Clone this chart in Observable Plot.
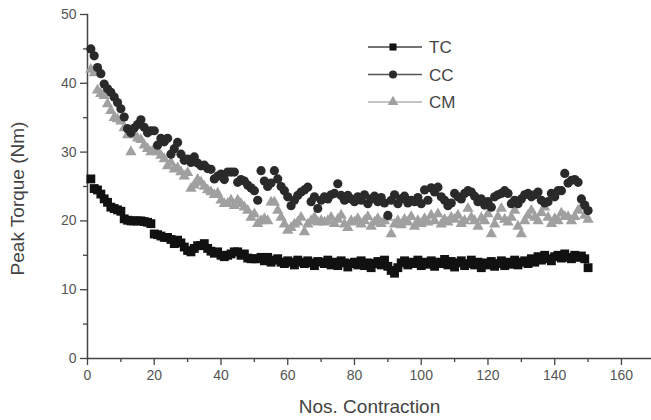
<!DOCTYPE html>
<html><head><meta charset="utf-8">
<script src="https://cdn.jsdelivr.net/npm/d3@7"></script>
<script src="https://cdn.jsdelivr.net/npm/@observablehq/plot@0.6"></script>
<style>
body{margin:0;background:#fff;}
#wrap{position:relative;width:651px;height:420px;font-family:"Liberation Sans",Arial,sans-serif;}
#legend{position:absolute;left:360px;top:34px;}
</style></head><body><div id="wrap"></div>
<script>
const seriesNames = ["TC", "CC", "CM"];
const seriesSymbols = ["square", "circle", "triangle"];
const seriesColors = ["#111111", "#2a2a2a", "#a0a0a0"];
const lineColors = ["#444444", "#555555", "#b0b0b0"];

const tc = [
26.1,24.7,24.5,23.9,23.2,22.7,22.0,21.8,21.6,21.4,
20.3,20.1,20.0,20.0,20.0,20.0,19.9,19.8,19.6,18.1,
18.0,17.8,17.6,17.6,17.3,16.7,17.2,16.8,16.2,15.7,
15.5,16.0,16.4,16.4,16.7,16.0,15.6,15.3,15.5,15.0,
14.8,15.0,15.2,15.5,15.5,15.0,15.2,14.6,14.5,14.5,
14.5,14.7,14.2,14.7,14.0,14.3,14.5,14.0,13.8,14.2,
14.0,13.6,14.3,14.0,13.8,14.2,13.9,13.5,14.1,14.0,
13.8,14.3,13.6,14.0,13.5,14.2,13.9,13.3,13.8,14.0,
13.6,14.2,13.5,13.9,13.2,13.8,14.1,13.6,14.3,13.4,
12.8,12.4,13.2,13.9,14.2,13.6,14.0,13.8,14.3,13.5,
14.0,13.7,14.2,13.4,14.0,13.8,14.4,13.6,14.1,13.3,
13.9,14.2,13.5,13.8,14.3,13.6,14.0,13.2,13.9,13.6,
14.1,13.4,13.8,14.2,13.5,14.0,13.7,14.3,13.6,14.0,
14.2,13.8,14.5,14.0,14.8,14.3,15.0,14.5,14.2,14.8,
15.0,14.6,15.2,14.7,14.5,15.0,14.7,14.9,14.5,13.2];

const cc = [
45.0,44.0,42.3,41.4,39.9,39.2,38.7,38.0,37.2,36.3,
35.1,33.4,32.8,33.5,34.0,34.7,33.6,32.8,33.1,33.1,
31.0,32.0,31.5,32.0,29.7,30.5,31.4,29.7,28.8,29.0,
28.5,29.3,28.4,28.0,28.1,27.6,27.5,26.1,26.5,26.8,
26.0,27.1,27.1,27.1,25.6,26.0,25.8,25.2,24.8,24.4,
23.0,27.3,25.8,25.0,25.5,27.3,26.1,25.0,24.4,23.5,
22.2,23.0,23.7,24.2,24.5,24.9,22.8,23.5,21.8,23.0,
23.5,23.2,23.8,24.0,25.4,23.7,23.0,23.7,23.2,22.8,
23.5,23.0,23.8,22.5,23.2,23.6,22.8,23.4,22.6,20.8,
23.0,23.8,22.5,23.2,23.6,22.6,23.0,22.8,23.4,22.5,
24.5,23.0,24.8,24.2,24.9,23.5,23.0,22.2,22.6,24.0,
23.5,23.2,24.0,24.4,24.2,23.6,22.8,23.2,22.3,22.8,
22.0,23.5,23.8,24.0,24.4,24.0,22.5,23.0,22.5,23.2,
23.8,24.0,23.5,23.8,24.2,23.0,22.6,22.8,24.0,23.5,
24.4,24.4,26.9,25.5,25.9,26.0,25.6,23.2,22.3,21.5];

const cm = [
42.0,41.5,39.0,38.5,38.2,37.0,36.0,35.0,34.8,34.5,
33.5,32.5,30.0,32.5,32.0,31.8,31.0,30.5,30.0,30.5,
30.0,29.5,29.0,28.0,28.5,27.5,27.7,27.1,26.5,27.0,
24.7,25.2,26.0,25.6,25.0,24.5,24.2,23.8,24.0,23.0,
22.5,22.5,23.0,22.2,23.0,22.5,22.0,21.5,20.5,21.0,
19.6,20.0,20.3,20.0,22.7,22.7,21.5,20.5,19.5,18.6,
19.0,19.5,19.8,20.5,18.4,19.5,20.0,20.5,19.8,20.0,
19.8,20.0,20.5,19.6,20.2,20.8,19.5,19.0,20.0,19.8,
20.3,19.5,20.0,20.6,19.2,19.8,20.3,19.6,20.0,20.5,
18.1,19.5,20.0,19.4,20.2,19.8,20.6,19.2,20.0,19.6,
20.3,19.8,20.8,20.0,21.0,19.5,20.2,19.8,20.5,20.2,
20.8,19.6,20.0,21.8,20.5,20.0,19.2,20.4,20.0,21.0,
18.1,19.5,20.6,21.8,20.2,19.8,20.5,21.5,19.2,18.1,
20.0,20.8,21.5,20.5,20.0,21.2,22.0,20.5,19.6,20.3,
20.0,21.1,20.6,20.6,20.0,20.6,21.5,22.0,20.8,20.2];

const xMajorTicks = [0, 20, 40, 60, 80, 100, 120, 140, 160];
const xMinorTicks = [10, 30, 50, 70, 90, 110, 130, 150];
const yMajorTicks = [0, 10, 20, 30, 40, 50];
const yMinorTicks = [5, 15, 25, 35, 45];

const allSeries = [tc, cc, cm];
const rows = [];
allSeries.forEach((vals, s) => vals.forEach((v, i) => rows.push({contraction: i + 1, torque: v, series: seriesNames[s]})));

const radius = {TC: 5.0, CC: 4.6, CM: 4.2};

const chart = Plot.plot({
  width: 651, height: 420,
  marginLeft: 87, marginRight: 0, marginTop: 14, marginBottom: 62,
  style: {fontFamily: '"Liberation Sans", Arial, sans-serif', background: "#fff"},
  x: {domain: [0, 169]},
  y: {domain: [0, 50]},
  marks: [
    Plot.frame({anchor: "left", stroke: "#444", strokeWidth: 1.5}),
    Plot.frame({anchor: "bottom", stroke: "#444", strokeWidth: 1.5}),
    Plot.axisX({ticks: xMinorTicks, tickSize: 4, text: null, stroke: "#444", strokeWidth: 1.3, label: null}),
    Plot.axisX({ticks: xMajorTicks, tickSize: 7, tickPadding: 5, fontSize: 14, fill: "#555", stroke: "#444", strokeWidth: 1.3,
      label: "Nos. Contraction", labelAnchor: "center", labelArrow: "none", labelOffset: 54}),
    Plot.axisY({ticks: yMinorTicks, tickSize: 4, text: null, stroke: "#444", strokeWidth: 1.3, label: null}),
    Plot.axisY({ticks: yMajorTicks, tickSize: 7, tickPadding: 4, fontSize: 14, fill: "#555", stroke: "#444", strokeWidth: 1.3,
      label: "Peak Torque (Nm)", labelAnchor: "center", labelArrow: "none", labelOffset: 77}),
    ...seriesNames.slice().reverse().map((name) => {
      const s = seriesNames.indexOf(name);
      return Plot.dot(rows.filter(d => d.series === name), {
        x: "contraction", y: "torque", symbol: () => seriesSymbols[s],
        r: radius[name], fill: seriesColors[s], stroke: "none"
      });
    })
  ],
  symbol: {type: "identity"}
});
d3.select(chart).selectAll("g[aria-label='x-axis label'] text, g[aria-label='y-axis label'] text")
  .style("font-size", "19px").style("fill", "#444");
d3.select(chart).selectAll("g[aria-label='y-axis label'] text").attr("dx", -12);
document.getElementById("wrap").appendChild(chart);

// legend
const leg = d3.select("#wrap").append("svg").attr("id", "legend").attr("width", 120).attr("height", 90);
seriesNames.forEach((name, i) => {
  const g = leg.append("g").attr("transform", `translate(0,${13 + i * 27.5})`);
  g.append("line").attr("x1", 8).attr("x2", 62).attr("y1", 0).attr("y2", 0).attr("stroke", lineColors[i]).attr("stroke-width", 1.4);
  g.append("path").attr("transform", "translate(33,0)")
    .attr("d", d3.symbol(seriesSymbols[i] === "square" ? d3.symbolSquare : seriesSymbols[i] === "circle" ? d3.symbolCircle : d3.symbolTriangle, 50)())
    .attr("fill", seriesColors[i]);
  g.append("text").attr("x", 69).attr("y", 6).text(name)
    .attr("font-family", '"Liberation Sans", Arial, sans-serif').attr("font-size", 17).attr("fill", "#444");
});
</script></body></html>
